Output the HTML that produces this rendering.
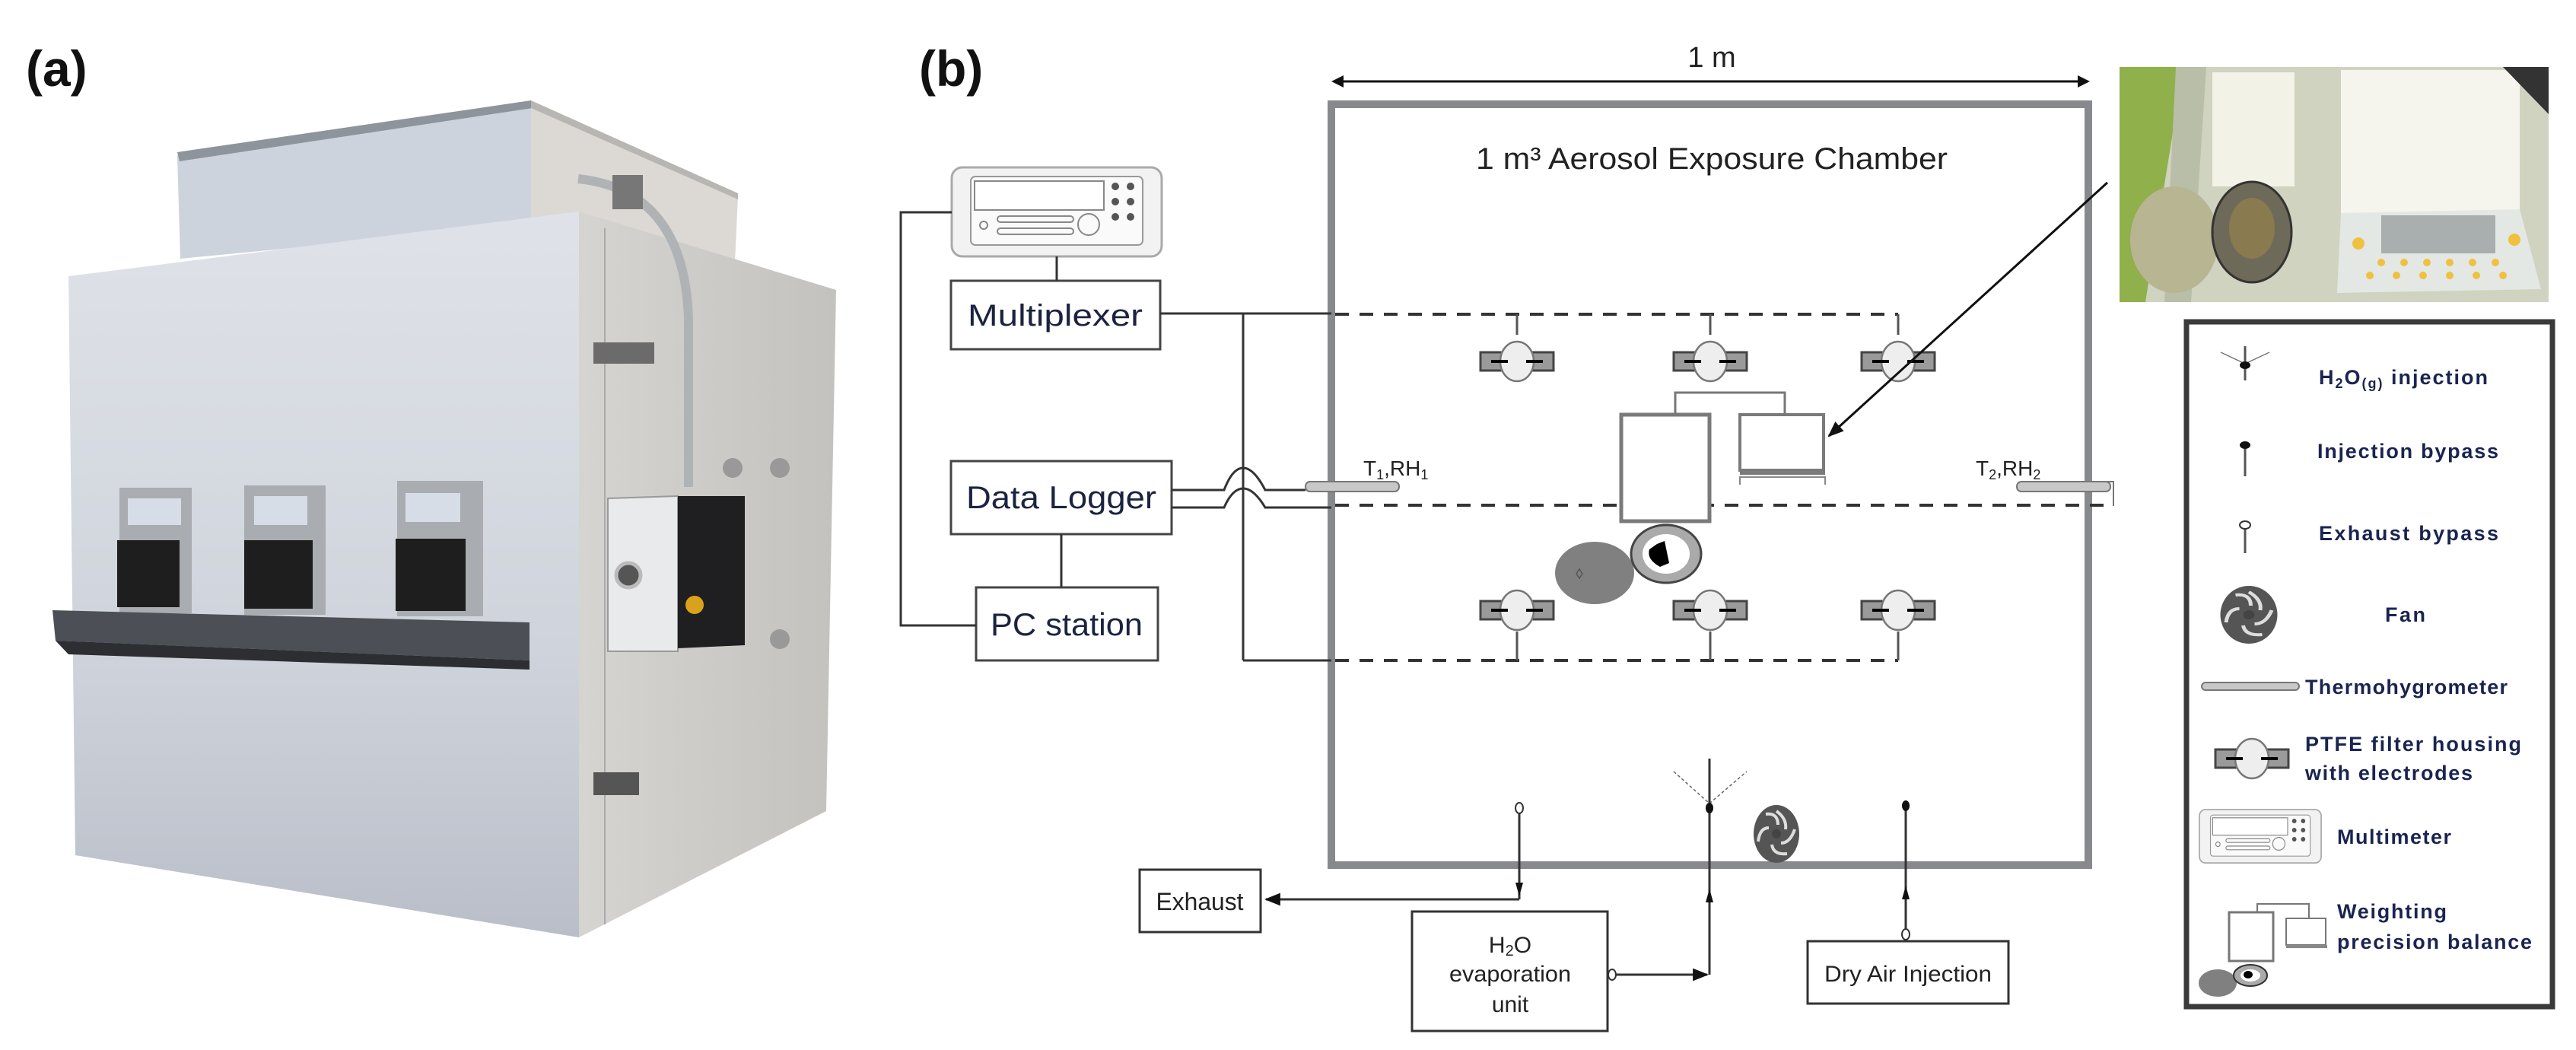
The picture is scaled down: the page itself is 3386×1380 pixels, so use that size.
<!DOCTYPE html>
<html><head><meta charset="utf-8">
<style>
html,body{margin:0;padding:0;background:#fff;}
svg{display:block;}
text{font-family:"Liberation Sans",Arial,sans-serif;}
</style></head>
<body>
<svg width="3386" height="1380" viewBox="0 0 3386 1380" xmlns="http://www.w3.org/2000/svg">
<defs>
<linearGradient id="front" x1="0" y1="0" x2="0" y2="1">
<stop offset="0" stop-color="#dfe2e8"/><stop offset="0.6" stop-color="#cfd4dc"/><stop offset="1" stop-color="#b9bec8"/>
</linearGradient>
<linearGradient id="side" x1="0" y1="0" x2="1" y2="0">
<stop offset="0" stop-color="#d6d4d0"/><stop offset="1" stop-color="#c4c2be"/>
</linearGradient>
<marker id="ah" viewBox="0 0 10 10" refX="9" refY="5" markerWidth="7" markerHeight="7" orient="auto"><path d="M0,1 L10,5 L0,9 z" fill="#111"/></marker>
<g id="filt">
<rect x="-48" y="-12" width="96" height="24" fill="#9a9a9a" stroke="#444" stroke-width="3"/>
<ellipse cx="0" cy="0" rx="22" ry="26" fill="#eeeeee" stroke="#777" stroke-width="2.5"/>
<line x1="-34" y1="0" x2="-12" y2="0" stroke="#000" stroke-width="4"/>
<line x1="12" y1="0" x2="34" y2="0" stroke="#000" stroke-width="4"/>
</g>
<g id="mm">
<rect x="0" y="0" width="276" height="117" rx="14" fill="#f2f2f2" stroke="#aaa" stroke-width="3"/>
<rect x="25" y="12" width="226" height="90" rx="6" fill="#fafafa" stroke="#999" stroke-width="2"/>
<rect x="30" y="18" width="170" height="38" fill="#fff" stroke="#888" stroke-width="2"/>
<g fill="#555"><circle cx="215" cy="25" r="5"/><circle cx="235" cy="25" r="5"/><circle cx="215" cy="45" r="5"/><circle cx="235" cy="45" r="5"/><circle cx="215" cy="65" r="5"/><circle cx="235" cy="65" r="5"/></g>
<g fill="none" stroke="#888" stroke-width="2"><circle cx="180" cy="75" r="14"/>
<rect x="60" y="64" width="100" height="8" rx="4"/><rect x="60" y="80" width="100" height="8" rx="4"/><circle cx="42" cy="76" r="5"/></g>
</g>
<g id="fan">
<ellipse cx="0" cy="0" rx="30" ry="38" fill="#555"/>
<g fill="none" stroke="#ddd" stroke-width="4">
<path d="M0,-30 Q14,-20 12,-6"/><path d="M24,-6 Q18,12 6,12"/><path d="M14,26 Q-4,28 -6,14"/><path d="M-24,10 Q-22,-8 -10,-8"/><path d="M-14,-26 Q2,-28 2,-12"/>
</g>
<circle cx="0" cy="0" r="6" fill="#444"/>
</g>
</defs>

<!-- (a) photo -->
<text x="34" y="113" font-size="66" font-weight="bold" fill="#111">(a)</text>
<polygon points="233,204 698,136 698,296 237,340" fill="#cdd3dc"/>
<polygon points="233,200 698,132 700,142 236,212" fill="#8d949c"/>
<polygon points="698,136 970,258 966,345 698,296" fill="#dcd9d4"/>
<polygon points="698,132 970,254 970,262 698,142" fill="#b8b6b2"/>
<polygon points="90,363 761,278 761,1232 99,1124" fill="url(#front)"/>
<polygon points="761,278 1099,381 1086,1066 761,1232" fill="url(#side)"/>
<line x1="795" y1="300" x2="795" y2="1215" stroke="#aaa" stroke-width="2"/>
<path d="M760,235 Q900,250 905,420 L905,640" fill="none" stroke="#b0b3b6" stroke-width="12"/>
<rect x="805" y="230" width="40" height="45" fill="#777"/>
<rect x="780" y="450" width="80" height="28" fill="#6b6b6b"/>
<rect x="780" y="1015" width="60" height="30" fill="#555"/>
<circle cx="963" cy="615" r="13" fill="#999"/><circle cx="1025" cy="615" r="13" fill="#999"/><circle cx="1025" cy="840" r="13" fill="#999"/>
<g>
<rect x="157" y="641" width="95" height="165" fill="#a9adb2"/>
<rect x="168" y="655" width="70" height="35" fill="#d6dde6"/>
<rect x="154" y="710" width="82" height="88" fill="#1e1e1e"/>
<rect x="321" y="638" width="107" height="170" fill="#a9adb2"/>
<rect x="334" y="652" width="70" height="38" fill="#d6dde6"/>
<rect x="321" y="710" width="90" height="90" fill="#1e1e1e"/>
<rect x="522" y="632" width="113" height="178" fill="#a9adb2"/>
<rect x="533" y="648" width="72" height="38" fill="#d6dde6"/>
<rect x="520" y="708" width="92" height="95" fill="#1e1e1e"/>
</g>
<polygon points="69,802 696,818 696,868 73,842" fill="#4c5056"/>
<polygon points="73,842 696,868 696,880 90,860" fill="#2c2e31"/>
<polygon points="799,655 891,652 891,856 799,856" fill="#e9eaec" stroke="#999" stroke-width="2"/>
<polygon points="891,652 979,652 979,848 891,852" fill="#1f1f22"/>
<circle cx="826" cy="756" r="16" fill="#555" stroke="#bbb" stroke-width="5"/>
<circle cx="913" cy="795" r="12" fill="#d9a21a"/>

<!-- (b) diagram -->
<text x="1208" y="113" font-size="66" font-weight="bold" fill="#111">(b)</text>
<text x="2250" y="88" font-size="38" text-anchor="middle" fill="#222">1 m</text>
<line x1="1762" y1="107" x2="2735" y2="107" stroke="#111" stroke-width="3"/>
<path d="M1750,107 l16,-8 v16 z M2747,107 l-16,-8 v16 z" fill="#111"/>
<rect x="1750" y="137" width="995" height="1000" fill="none" stroke="#88898d" stroke-width="10"/>
<text x="2250" y="222" font-size="40" text-anchor="middle" fill="#222" textLength="620" lengthAdjust="spacingAndGlyphs">1 m³ Aerosol Exposure Chamber</text>

<use href="#mm" x="1251" y="220"/>
<rect x="1250" y="369" width="275" height="90" fill="#fff" stroke="#444" stroke-width="3"/>
<text x="1387" y="428" font-size="40" text-anchor="middle" fill="#1b2340" textLength="230" lengthAdjust="spacingAndGlyphs">Multiplexer</text>
<rect x="1250" y="606" width="290" height="96" fill="#fff" stroke="#444" stroke-width="3"/>
<text x="1395" y="668" font-size="42" text-anchor="middle" fill="#1b2340" textLength="250" lengthAdjust="spacingAndGlyphs">Data Logger</text>
<rect x="1283" y="772" width="239" height="96" fill="#fff" stroke="#444" stroke-width="3"/>
<text x="1402" y="835" font-size="42" text-anchor="middle" fill="#1b2340" textLength="200" lengthAdjust="spacingAndGlyphs">PC station</text>
<g stroke="#333" stroke-width="3" fill="none">
<polyline points="1251,279 1184,279 1184,822 1283,822"/>
<line x1="1389" y1="337" x2="1389" y2="369"/>
<line x1="1395" y1="702" x2="1395" y2="772"/>
<line x1="1525" y1="412" x2="1750" y2="412"/>
<line x1="1634" y1="412" x2="1634" y2="868"/>
<line x1="1634" y1="868" x2="1750" y2="868"/>
<path d="M1540,644 L1609,644 Q1620,615 1634,615 Q1648,615 1663,644 L1716,644"/>
<path d="M1540,667 L1609,667 Q1620,642 1634,642 Q1648,642 1663,667 L1750,667"/>
</g>
<g stroke="#333" stroke-width="4" stroke-dasharray="18,14" fill="none">
<line x1="1755" y1="413" x2="2495" y2="413"/>
<line x1="1755" y1="664" x2="2776" y2="664"/>
<line x1="1755" y1="868" x2="2495" y2="868"/>
</g>
<g stroke="#555" stroke-width="3">
<line x1="1994" y1="413" x2="1994" y2="440"/><line x1="2248" y1="413" x2="2248" y2="440"/><line x1="2495" y1="413" x2="2495" y2="440"/>
<line x1="1994" y1="830" x2="1994" y2="868"/><line x1="2248" y1="830" x2="2248" y2="868"/><line x1="2495" y1="830" x2="2495" y2="868"/>
</g>
<use href="#filt" x="1994" y="475"/><use href="#filt" x="2248" y="475"/><use href="#filt" x="2495" y="475"/>
<use href="#filt" x="1994" y="802"/><use href="#filt" x="2248" y="802"/><use href="#filt" x="2495" y="802"/>
<rect x="1716" y="633" width="123" height="13" rx="6" fill="#c8c8c8" stroke="#777" stroke-width="2"/>
<text x="1792" y="625" font-size="28" fill="#222">T<tspan font-size="18" dy="5">1</tspan><tspan dy="-5">,RH</tspan><tspan font-size="18" dy="5">1</tspan></text>
<rect x="2651" y="633" width="123" height="13" rx="6" fill="#c8c8c8" stroke="#777" stroke-width="2"/>
<path d="M2770,633 h8 v32" fill="none" stroke="#777" stroke-width="2"/>
<text x="2597" y="625" font-size="28" fill="#222">T<tspan font-size="18" dy="5">2</tspan><tspan dy="-5">,RH</tspan><tspan font-size="18" dy="5">2</tspan></text>
<rect x="2131" y="545" width="116" height="140" fill="#fff" stroke="#7a7a7a" stroke-width="5"/>
<rect x="2287" y="545" width="110" height="73" fill="#fff" stroke="#7a7a7a" stroke-width="4"/>
<rect x="2287" y="618" width="112" height="6" fill="#7a7a7a"/>
<path d="M2287,637 v-10 h112 v10" fill="none" stroke="#888" stroke-width="2"/>
<polyline points="2202,545 2202,516 2346,516 2346,545" fill="none" stroke="#777" stroke-width="3"/>
<ellipse cx="2096" cy="753" rx="52" ry="41" fill="#808080"/>
<path d="M2072,754 l4,-6 4,6 -4,6 z" fill="none" stroke="#555" stroke-width="1.5"/>
<ellipse cx="2190" cy="728" rx="46" ry="38" fill="#aaa" stroke="#444" stroke-width="3"/>
<ellipse cx="2190" cy="728" rx="31" ry="26" fill="#fff"/>
<path d="M2178,715 L2188,711 L2194,740 L2182,745 Q2164,735 2168,722 z" fill="#000"/>
<line x1="2770" y1="240" x2="2404" y2="573" stroke="#111" stroke-width="3" marker-end="url(#ah)"/>

<g stroke="#333" stroke-width="3" fill="none">
<line x1="1997" y1="1068" x2="1997" y2="1182"/>
<line x1="1997" y1="1182" x2="1664" y2="1182" marker-end="url(#ah)"/>
<line x1="2247" y1="1066" x2="2247" y2="1281"/>
<line x1="2124" y1="1281" x2="2244" y2="1281" marker-end="url(#ah)"/>
<line x1="2505" y1="1063" x2="2505" y2="1245"/>
<line x1="2247" y1="997" x2="2247" y2="1060"/>
</g>
<path d="M1992,1160 l5,18 5,-18z M2242,1186 l5,-18 5,18z M2500,1182 l5,-18 5,18z" fill="#111"/>
<path d="M2200,1014 L2247,1056 L2296,1014" fill="none" stroke="#666" stroke-width="1.5" stroke-dasharray="4,3"/>
<ellipse cx="1997" cy="1062" rx="5" ry="7" fill="#fff" stroke="#333" stroke-width="2"/>
<ellipse cx="2247" cy="1062" rx="5" ry="7" fill="#111"/>
<ellipse cx="2505" cy="1059" rx="5" ry="7" fill="#111"/>
<ellipse cx="2505" cy="1228" rx="5" ry="7" fill="#fff" stroke="#333" stroke-width="2"/>
<ellipse cx="2119" cy="1281" rx="5" ry="7" fill="#fff" stroke="#333" stroke-width="2"/>
<use href="#fan" x="2335" y="1096"/>
<rect x="1498" y="1143" width="159" height="82" fill="#fff" stroke="#333" stroke-width="3"/>
<text x="1577" y="1196" font-size="32" text-anchor="middle" fill="#222" textLength="115" lengthAdjust="spacingAndGlyphs">Exhaust</text>
<rect x="1856" y="1198" width="257" height="157" fill="#fff" stroke="#333" stroke-width="3"/>
<text x="1985" y="1252" font-size="30" text-anchor="middle" fill="#222">H<tspan font-size="20" dy="4">2</tspan><tspan dy="-4">O</tspan></text>
<text x="1985" y="1290" font-size="30" text-anchor="middle" fill="#222" textLength="160" lengthAdjust="spacingAndGlyphs">evaporation</text>
<text x="1985" y="1330" font-size="30" text-anchor="middle" fill="#222">unit</text>
<rect x="2376" y="1237" width="264" height="82" fill="#fff" stroke="#333" stroke-width="3"/>
<text x="2508" y="1290" font-size="30" text-anchor="middle" fill="#222" textLength="220" lengthAdjust="spacingAndGlyphs">Dry Air Injection</text>

<rect x="2786" y="88" width="564" height="309" fill="#cfd3bf"/>
<polygon points="2786,88 2870,88 2820,397 2786,397" fill="#8fb04a"/>
<polygon points="2860,88 2900,88 2880,397 2845,397" fill="#b9bea8"/>
<rect x="2908" y="95" width="108" height="150" fill="#f2f2e6"/>
<rect x="3077" y="92" width="235" height="200" fill="#f5f5ee"/>
<path d="M3077,280 L3312,275 L3340,380 L3072,385 Z" fill="#e3e8e4"/>
<rect x="3130" y="283" width="150" height="50" fill="#a9aeae"/>
<ellipse cx="2858" cy="315" rx="58" ry="70" fill="#b7b592"/>
<ellipse cx="2960" cy="305" rx="52" ry="66" fill="#6e6a5a" stroke="#333" stroke-width="3"/>
<ellipse cx="2960" cy="300" rx="30" ry="40" fill="#8a7a50"/>
<g fill="#f0c040"><circle cx="3100" cy="320" r="8"/><circle cx="3305" cy="315" r="8"/><circle cx="3130" cy="345" r="5"/><circle cx="3160" cy="345" r="5"/><circle cx="3190" cy="345" r="5"/><circle cx="3220" cy="345" r="5"/><circle cx="3250" cy="345" r="5"/><circle cx="3280" cy="345" r="5"/><circle cx="3115" cy="362" r="5"/><circle cx="3150" cy="362" r="5"/><circle cx="3185" cy="362" r="5"/><circle cx="3220" cy="362" r="5"/><circle cx="3255" cy="362" r="5"/><circle cx="3290" cy="362" r="5"/></g>
<polygon points="3290,88 3350,88 3350,150" fill="#333"/>

<rect x="2874" y="423" width="481" height="900" fill="#fff" stroke="#3a3a3a" stroke-width="7"/>
<g stroke="#555" stroke-width="3">
<line x1="2951" y1="455" x2="2951" y2="500"/>
<line x1="2951" y1="588" x2="2951" y2="626"/>
<line x1="2951" y1="693" x2="2951" y2="727"/>
</g>
<path d="M2919,463 L2951,478 L2983,463" fill="none" stroke="#777" stroke-width="1.5"/>
<ellipse cx="2951" cy="480" rx="7" ry="5" fill="#111"/>
<ellipse cx="2951" cy="585" rx="7" ry="5" fill="#111"/>
<ellipse cx="2951" cy="690" rx="7" ry="5" fill="#fff" stroke="#333" stroke-width="2"/>
<g transform="translate(2956,808) scale(1.25,1)"><use href="#fan"/></g>
<rect x="2894" y="897" width="128" height="10" rx="5" fill="#c8c8c8" stroke="#777" stroke-width="2"/>
<g transform="translate(2960,997)"><use href="#filt"/></g>
<g transform="translate(2891,1064) scale(0.58,0.6)"><use href="#mm"/></g>
<rect x="2930" y="1199" width="58" height="64" fill="#fff" stroke="#777" stroke-width="3"/>
<rect x="3005" y="1207" width="52" height="35" fill="#fff" stroke="#777" stroke-width="2"/>
<rect x="3005" y="1242" width="54" height="4" fill="#888"/>
<polyline points="2967,1199 2967,1188 3035,1188 3035,1207" fill="none" stroke="#777" stroke-width="2"/>
<ellipse cx="2915" cy="1292" rx="25" ry="18" fill="#808080"/>
<ellipse cx="2958" cy="1282" rx="22" ry="14" fill="#aaa" stroke="#333" stroke-width="2"/>
<ellipse cx="2958" cy="1282" rx="13" ry="8" fill="#fff"/>
<ellipse cx="2955" cy="1281" rx="6" ry="5" fill="#000"/>
<g fill="#1a2450" font-size="27" font-weight="600" letter-spacing="2">
<text x="3048" y="505">H<tspan font-size="18" dy="5">2</tspan><tspan dy="-5">O</tspan><tspan font-size="18" dy="5">(g)</tspan><tspan dy="-5">  injection</tspan></text>
<text x="3046" y="602" textLength="240" lengthAdjust="spacing">Injection bypass</text>
<text x="3048" y="710" textLength="238" lengthAdjust="spacing">Exhaust bypass</text>
<text x="3135" y="817" textLength="55" lengthAdjust="spacing">Fan</text>
<text x="3030" y="912" textLength="268" lengthAdjust="spacing">Thermohygrometer</text>
<text x="3030" y="987" textLength="286" lengthAdjust="spacing">PTFE  filter housing</text>
<text x="3030" y="1025" textLength="222" lengthAdjust="spacing">with electrodes</text>
<text x="3072" y="1109" textLength="152" lengthAdjust="spacing">Multimeter</text>
<text x="3072" y="1207" textLength="146" lengthAdjust="spacing">Weighting</text>
<text x="3072" y="1247" textLength="258" lengthAdjust="spacing">precision balance</text>
</g>
</svg>
</body></html>
